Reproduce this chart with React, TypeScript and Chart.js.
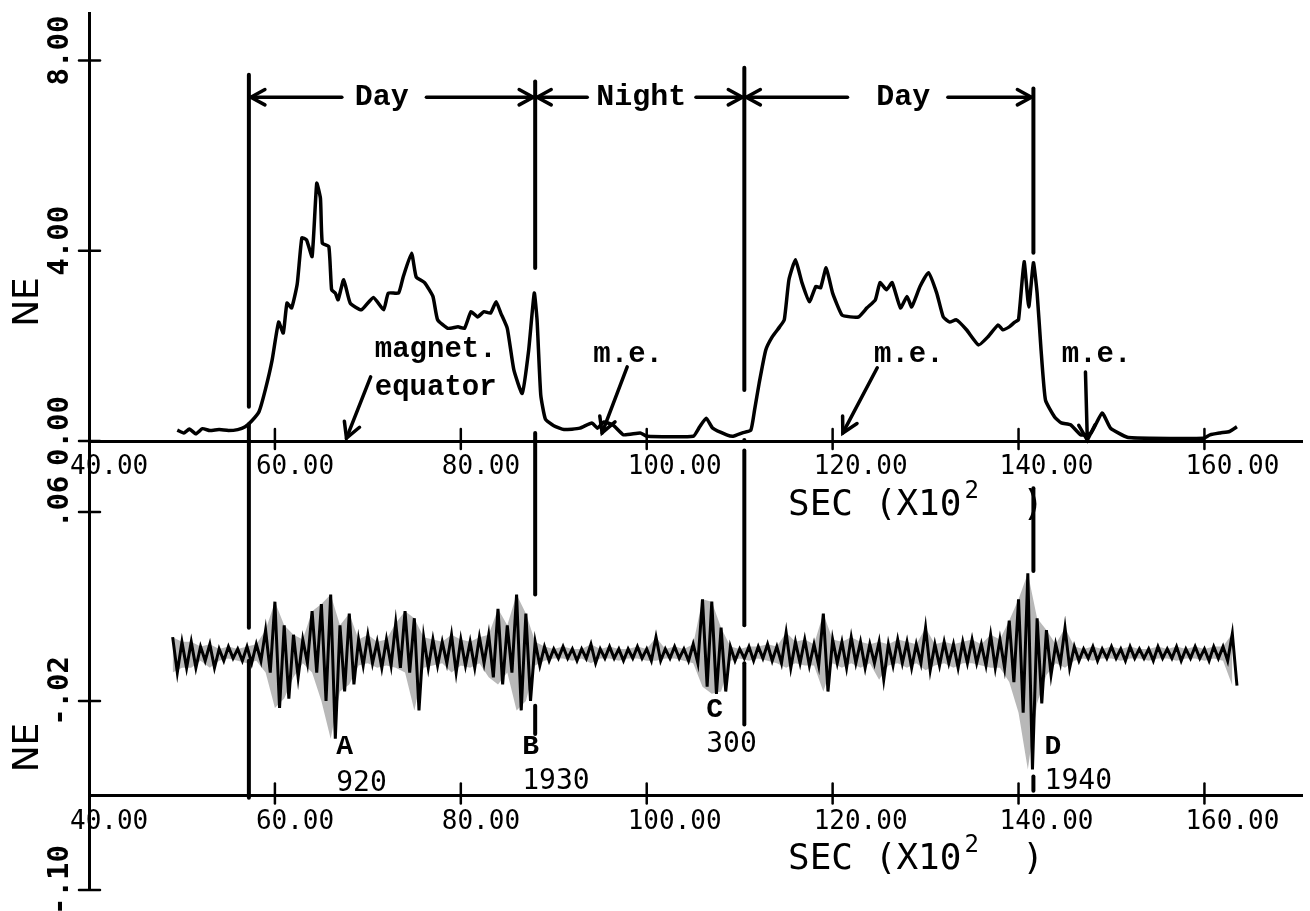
import { useEffect, useRef } from "react";
import { Chart, registerables } from "chart.js";
import type { Plugin, Scale } from "chart.js";

Chart.register(...registerables);

// top panel: NE trace, time in SEC x 10^2
const TOP_T = [
  49.5, 50.2, 50.8, 51.5, 52.2, 53.0, 54.0, 55.0, 56.0, 56.8, 57.5, 58.3, 59.0, 59.7, 60.4, 60.9,
  61.3, 61.8, 62.4, 62.9, 63.4, 64.0, 64.5, 64.9, 65.1, 65.8, 66.1, 66.5, 66.8, 67.4, 68.1, 69.3,
  70.6, 71.7, 72.2, 73.3, 73.8, 74.7, 75.2, 76.1, 77.0, 77.5, 78.6, 79.7, 80.4, 81.1, 81.8, 82.5,
  83.2, 83.8, 84.3, 85.0, 85.7, 86.6, 87.3, 87.9, 88.2, 88.6, 89.1, 90.0, 91.1, 92.8, 94.1, 94.7,
  95.4, 96.4, 97.5, 99.3, 100.0, 105.0, 105.7, 106.4, 107.1, 108.6, 109.3, 110.3, 111.2, 111.6,
  112.1, 112.8, 113.5, 114.3, 114.8, 115.3, 116.0, 116.7, 117.5, 118.2, 118.7, 119.3, 120.0, 121.0,
  121.9, 122.8, 123.7, 124.6, 125.1, 125.8, 126.4, 127.3, 128.0, 128.5, 129.4, 130.3, 131.2, 131.9,
  132.6, 133.3, 134.4, 135.7, 136.7, 137.8, 138.3, 139.0, 139.6, 140.0, 140.6, 141.1, 141.6, 142.0,
  142.4, 142.9, 143.9, 144.6, 145.6, 146.7, 147.8, 149.0, 149.9, 151.7, 154.2, 159.9, 160.6, 161.7,
  162.7, 163.5,
];
const TOP_NE = [
  0.23, 0.17, 0.25, 0.15, 0.26, 0.22, 0.24, 0.22, 0.24, 0.3, 0.42, 0.62, 1.1, 1.7, 2.5, 2.27,
  2.9, 2.8, 3.3, 4.27, 4.23, 3.88, 5.42, 5.1, 4.16, 4.09, 3.18, 3.11, 2.97, 3.39, 2.9, 2.76,
  3.02, 2.76, 3.11, 3.11, 3.45, 3.95, 3.45, 3.33, 3.04, 2.55, 2.37, 2.4, 2.37, 2.72, 2.61, 2.72,
  2.69, 2.93, 2.69, 2.37, 1.5, 1.0, 1.91, 3.11, 2.55, 0.97, 0.46, 0.32, 0.24, 0.27, 0.38, 0.27,
  0.4, 0.33, 0.13, 0.17, 0.1, 0.1, 0.3, 0.48, 0.27, 0.13, 0.1, 0.17, 0.23, 0.65,
  1.22, 1.91, 2.19, 2.4, 2.55, 3.39, 3.81, 3.33, 2.93, 3.25, 3.22, 3.64, 3.11, 2.65,
  2.61, 2.61, 2.8, 2.97, 3.33, 3.18, 3.33, 2.8, 3.04, 2.82, 3.25, 3.54, 3.11, 2.61,
  2.5, 2.55, 2.34, 2.02, 2.19, 2.44, 2.34, 2.4, 2.5, 2.55, 3.77, 2.82, 3.75, 3.11,
  1.98, 0.86, 0.5, 0.38, 0.34, 0.13, 0.17, 0.59, 0.27, 0.08, 0.06, 0.06, 0.13, 0.17,
  0.2, 0.3,
];

// bottom panel: fluctuation trace, upper and lower swing per sample
const SIG_T = [
  49, 50, 51, 52, 53, 54, 55, 56, 57, 58, 59, 60, 61, 62, 63, 64, 65, 66, 67, 68, 69, 70, 71, 72, 73,
  74, 75, 76, 77, 78, 79, 80, 81, 82, 83, 84, 85, 86, 87, 88, 89, 90, 91, 92, 93, 94, 95, 96, 97, 98,
  99, 100, 101, 102, 103, 104, 105, 106, 107, 108, 109, 110, 111, 112, 113, 114, 115, 116, 117, 118,
  119, 120, 121, 122, 123, 124, 125, 126, 127, 128, 129, 130, 131, 132, 133, 134, 135, 136, 137, 138,
  139, 140, 141, 142, 143, 144, 145, 146, 147, 148, 149, 150, 151, 152, 153, 154, 155, 156, 157, 158,
  159, 160, 161, 162, 163,
];
const SIG_HI = [
  0.007, 0.005, 0.005, 0.003, 0.004, 0.002, 0.003, 0.002, 0.003, 0.004, 0.01, 0.022, 0.012, 0.008, 0.006,
  0.018, 0.021, 0.025, 0.012, 0.017, 0.006, 0.008, 0.005, 0.006, 0.013, 0.018, 0.015, 0.007, 0.006, 0.005,
  0.008, 0.006, 0.005, 0.007, 0.008, 0.019, 0.012, 0.025, 0.017, 0.005, 0.003, 0.002, 0.003, 0.002, 0.002,
  0.004, 0.002, 0.003, 0.002, 0.002, 0.003, 0.002, 0.007, 0.002, 0.003, 0.002, 0.004, 0.023, 0.022, 0.011,
  0.003, 0.002, 0.003, 0.003, 0.004, 0.003, 0.009, 0.005, 0.006, 0.004, 0.017, 0.006, 0.005, 0.007, 0.005,
  0.004, 0.005, 0.004, 0.006, 0.005, 0.004, 0.011, 0.004, 0.005, 0.004, 0.005, 0.006, 0.004, 0.008, 0.006,
  0.014, 0.023, 0.034, 0.015, 0.01, 0.004, 0.011, 0.003, 0.002, 0.003, 0.002, 0.003, 0.002, 0.003, 0.002,
  0.002, 0.003, 0.002, 0.003, 0.002, 0.003, 0.002, 0.003, 0.003, 0.0085,
];
const SIG_LO = [
  -0.008, -0.006, -0.006, -0.003, -0.006, -0.003, -0.002, -0.003, -0.004, -0.003, -0.008, -0.023, -0.019, -0.01, -0.004,
  -0.008, -0.02, -0.036, -0.016, -0.013, -0.005, -0.004, -0.006, -0.005, -0.006, -0.008, -0.024, -0.006, -0.005, -0.004,
  -0.008, -0.005, -0.006, -0.004, -0.01, -0.013, -0.008, -0.024, -0.02, -0.005, -0.003, -0.002, -0.002, -0.003, -0.002,
  -0.004, -0.002, -0.002, -0.003, -0.002, -0.002, -0.003, -0.003, -0.002, -0.002, -0.003, -0.004, -0.014, -0.017, -0.016,
  -0.003, -0.002, -0.003, -0.002, -0.003, -0.004, -0.006, -0.004, -0.005, -0.005, -0.016, -0.004, -0.006, -0.004, -0.006,
  -0.004, -0.011, -0.005, -0.004, -0.006, -0.004, -0.007, -0.005, -0.004, -0.006, -0.004, -0.004, -0.005, -0.006, -0.006,
  -0.012, -0.025, -0.049, -0.021, -0.009, -0.004, -0.006, -0.003, -0.002, -0.003, -0.002, -0.002, -0.003, -0.002, -0.002,
  -0.003, -0.002, -0.002, -0.003, -0.002, -0.002, -0.003, -0.002, -0.003, -0.0135,
];

const X_TICKS = [40, 60, 80, 100, 120, 140, 160];
const Y_TICKS = [0, 4, 8];
const Y_TICK_LABELS = ["0.00", "4.00", "8.00"];
const Y2_TICKS = [-0.1, -0.02, 0.06];
const Y2_TICK_LABELS = ["-.10", "-.02", ".06"];

// day / night boundaries and the pieces of each vertical marker
const PHASE_X = [57.2, 88.0, 110.5, 141.6];
const PHASE_TOP: number[][][] = [
  [[7.7, 0.72], [0.35, 0]],
  [[7.56, 3.64], [0.17, 0]],
  [[7.85, 1.07], [0.02, 0]],
  [[7.41, 3.96]],
];
const PHASE_BOT: number[][][] = [
  [[0.09, 0.011], [-0.003, -0.061]],
  [[0.09, 0.025], [-0.022, -0.034]],
  [[0.086, 0.012], [-0.004, -0.03]],
  [[0.07, 0.035], [-0.052, -0.058]],
];
const PERIOD_LABELS = ["Day", "Night", "Day"];
const PERIOD_MID = [71.5, 99.4, 127.6];
const PERIOD_TAILS = [[67.2, 76.3], [93.6, 105.3], [121.6, 132.4]];
const PERIOD_Y = 7.23;

// magnetic equator pointers
const ME_TEXT = [["magnet.", "equator"], ["m.e."], ["m.e."], ["m.e."]];
const ME_TEXT_X = [77.3, 98.0, 128.2, 148.4];
const ME_TEXT_Y = [1.92, 1.81, 1.81, 1.81];
const ME_TAIL = [[70.3, 1.35], [97.9, 1.56], [124.8, 1.54], [147.2, 1.45]];
const ME_TIP = [[67.7, 0.06], [95.2, 0.17], [121.1, 0.17], [147.4, 0.02]];

// events in the lower panel
const EVENT_NAMES = ["A", "B", "C", "D"];
const EVENT_TIMES = ["920", "1930", "300", "1940"];
const EVENT_X = [66.6, 86.6, 106.4, 142.8];
const EVENT_NAME_Y = [-0.0394, -0.0394, -0.0237, -0.0394];
const EVENT_TIME_Y = [-0.055, -0.054, -0.0385, -0.054];

const MONO = '"DejaVu Sans Mono", monospace';
const TYPE = '"Liberation Mono", "DejaVu Sans Mono", monospace';
const SANS = '"DejaVu Sans", sans-serif';

function arrowHead(c: CanvasRenderingContext2D, fx: number, fy: number, tx: number, ty: number, len: number) {
  const a = Math.atan2(ty - fy, tx - fx);
  const s = 0.5;
  c.beginPath();
  c.moveTo(tx - len * Math.cos(a - s), ty - len * Math.sin(a - s));
  c.lineTo(tx, ty);
  c.lineTo(tx - len * Math.cos(a + s), ty - len * Math.sin(a + s));
  c.stroke();
}

function seg(c: CanvasRenderingContext2D, x1: number, y1: number, x2: number, y2: number) {
  c.beginPath();
  c.moveTo(x1, y1);
  c.lineTo(x2, y2);
  c.stroke();
}

const overlay: Plugin<"scatter"> = {
  id: "overlay",
  afterDraw(chart) {
    const c = chart.ctx;
    const { x, x2, y, y2 } = chart.scales as Record<string, Scale>;
    const left = chart.chartArea.left;
    c.save();
    c.fillStyle = "#000";
    c.strokeStyle = "#000";
    c.lineCap = "round";

    // tick marks crossing the axes
    c.lineWidth = 2.5;
    const xAxes: [Scale, number][] = [[x, y.getPixelForValue(0)], [x2, y2.getPixelForValue(-0.06)]];
    for (const [xs, py] of xAxes) {
      for (const v of X_TICKS) {
        if (v === 40) continue;
        const px = xs.getPixelForValue(v);
        seg(c, px, py - 12, px, py + 8);
      }
    }
    const yAxes: [Scale, string[]][] = [[y, Y_TICK_LABELS], [y2, Y2_TICK_LABELS]];
    for (const [ys, labels] of yAxes) {
      ys.ticks.forEach((t, i) => {
        const py = ys.getPixelForValue(t.value);
        c.lineWidth = 2.5;
        seg(c, left - 10, py, left + 11, py);
        c.save();
        c.translate(60, py - 10);
        c.rotate(-Math.PI / 2);
        c.font = `bold 29px ${MONO}`;
        c.textAlign = "center";
        c.textBaseline = "middle";
        c.fillText(labels[i], 0, 0);
        c.restore();
      });
      // axis title
      c.save();
      c.translate(29, (ys.top + ys.bottom) / 2 + (ys === y ? 75 : 82));
      c.rotate(-Math.PI / 2);
      c.font = `36px ${SANS}`;
      c.textAlign = "center";
      c.textBaseline = "middle";
      c.fillText("NE", 0, 0);
      c.restore();
    }

    // x titles: SEC (X10^2 )
    for (const [xs, py] of xAxes) {
      let px = xs.getPixelForValue(115.2);
      const base = py + 74;
      c.textAlign = "left";
      c.textBaseline = "alphabetic";
      c.font = `36px ${MONO}`;
      c.fillText("SEC (X10", px, base);
      px += c.measureText("SEC (X10").width + 3;
      c.font = `24px ${MONO}`;
      c.fillText("2", px, base - 17);
      px += c.measureText("2").width;
      c.font = `36px ${MONO}`;
      c.fillText("  )", px, base);
    }

    // day / night markers
    c.lineWidth = 4;
    PHASE_X.forEach((v, i) => {
      const px = x.getPixelForValue(v);
      for (const [a, b] of PHASE_TOP[i]) seg(c, px, y.getPixelForValue(a), px, y.getPixelForValue(b));
      for (const [a, b] of PHASE_BOT[i]) seg(c, px, y2.getPixelForValue(a), px, y2.getPixelForValue(b));
    });
    const py = y.getPixelForValue(PERIOD_Y);
    c.font = `bold 30px ${TYPE}`;
    c.textAlign = "center";
    c.textBaseline = "middle";
    PERIOD_LABELS.forEach((label, i) => {
      c.fillText(label, x.getPixelForValue(PERIOD_MID[i]), py);
      const startX = x.getPixelForValue(PHASE_X[i]);
      const endX = x.getPixelForValue(PHASE_X[i + 1]);
      const [tl, tr] = PERIOD_TAILS[i];
      c.lineWidth = 3.5;
      seg(c, x.getPixelForValue(tl), py, startX + 2, py);
      arrowHead(c, startX + 20, py, startX + 2, py, 16);
      seg(c, x.getPixelForValue(tr), py, endX - 2, py);
      arrowHead(c, endX - 20, py, endX - 2, py, 16);
    });

    // magnetic equator pointers
    ME_TEXT.forEach((lines, i) => {
      c.font = `bold 29px ${TYPE}`;
      lines.forEach((t, k) => {
        c.fillText(t, x.getPixelForValue(ME_TEXT_X[i]), y.getPixelForValue(ME_TEXT_Y[i]) + k * 38);
      });
      const fx = x.getPixelForValue(ME_TAIL[i][0]);
      const fy = y.getPixelForValue(ME_TAIL[i][1]);
      const tx = x.getPixelForValue(ME_TIP[i][0]);
      const ty = y.getPixelForValue(ME_TIP[i][1]);
      c.lineWidth = 3.5;
      seg(c, fx, fy, tx, ty);
      arrowHead(c, fx, fy, tx, ty, 17);
    });

    // event labels
    c.textAlign = "left";
    EVENT_NAMES.forEach((n, i) => {
      const px = x2.getPixelForValue(EVENT_X[i]);
      c.font = `bold 28px ${TYPE}`;
      c.fillText(n, px, y2.getPixelForValue(EVENT_NAME_Y[i]));
      c.font = `28px ${MONO}`;
      c.fillText(EVENT_TIMES[i], px, y2.getPixelForValue(EVENT_TIME_Y[i]));
    });
    c.restore();
  },
};

const xAxis = (pos: Record<string, number>) => ({
  type: "linear" as const,
  position: pos,
  min: 40,
  max: 170.5,
  afterBuildTicks: (s: Scale) => {
    s.ticks = X_TICKS.map((value) => ({ value }));
  },
  grid: { display: false, drawTicks: false },
  border: { color: "#000", width: 3 },
  ticks: {
    align: "start" as const,
    labelOffset: -19,
    padding: 11,
    autoSkip: false,
    maxRotation: 0,
    color: "#000",
    font: { family: MONO, size: 26 },
    callback: (v: number | string) => Number(v).toFixed(2),
  },
});

export default function App() {
  const canvasRef = useRef<HTMLCanvasElement>(null);

  useEffect(() => {
    const canvas = canvasRef.current;
    if (!canvas) return;
    const topPoints = TOP_T.map((t, i) => ({ x: t, y: TOP_NE[i] }));
    const hiPoints = SIG_T.map((t, i) => ({ x: t, y: SIG_HI[i] }));
    const loPoints = SIG_T.map((t, i) => ({ x: t, y: SIG_LO[i] }));
    const sigPoints = SIG_T.flatMap((t, i) => [
      { x: t, y: SIG_HI[i] },
      { x: t + 0.5, y: SIG_LO[i] },
    ]);

    const chart = new Chart(canvas, {
      type: "scatter",
      data: {
        datasets: [
          {
            data: topPoints,
            xAxisID: "x",
            yAxisID: "y",
            showLine: true,
            borderColor: "#000",
            borderWidth: 3.5,
            pointRadius: 0,
            tension: 0.15,
          },
          // envelope of the fluctuations, light fill
          {
            data: hiPoints,
            xAxisID: "x2",
            yAxisID: "y2",
            showLine: true,
            borderWidth: 0,
            borderColor: "rgba(0,0,0,0)",
            pointRadius: 0,
          },
          {
            data: loPoints,
            xAxisID: "x2",
            yAxisID: "y2",
            showLine: true,
            borderWidth: 0,
            borderColor: "rgba(0,0,0,0)",
            backgroundColor: "rgba(0,0,0,0.28)",
            fill: "-1",
            pointRadius: 0,
          },
          {
            data: sigPoints,
            xAxisID: "x2",
            yAxisID: "y2",
            showLine: true,
            borderColor: "#000",
            borderWidth: 3,
            pointRadius: 0,
          },
        ],
      },
      options: {
        animation: false,
        responsive: true,
        maintainAspectRatio: false,
        events: [],
        layout: { padding: { top: 13, bottom: 21, left: 0, right: 0 } },
        plugins: { legend: { display: false }, tooltip: { enabled: false } },
        scales: {
          x: xAxis({ y: 0 }),
          x2: xAxis({ y2: -0.06 }),
          y: {
            type: "linear",
            position: "left",
            stack: "ne",
            stackWeight: 428,
            weight: 2,
            min: 0,
            max: 9,
            afterBuildTicks: (s) => {
              s.ticks = Y_TICKS.map((value) => ({ value }));
            },
            afterFit: (s) => {
              s.width = 89;
            },
            grid: { display: false, drawTicks: false },
            border: { color: "#000", width: 3 },
            ticks: { display: false },
          },
          y2: {
            type: "linear",
            position: "left",
            stack: "ne",
            stackWeight: 449,
            weight: 1,
            min: -0.1,
            max: 0.09,
            afterBuildTicks: (s) => {
              s.ticks = Y2_TICKS.map((value) => ({ value }));
            },
            afterFit: (s) => {
              s.width = 89;
            },
            grid: { display: false, drawTicks: false },
            border: { color: "#000", width: 3 },
            ticks: { display: false },
          },
        },
      },
      plugins: [overlay],
    });

    return () => chart.destroy();
  }, []);

  return (
    <div style={{ position: "fixed", left: 0, top: 0, width: 1310, height: 911, background: "#fff" }}>
      <canvas ref={canvasRef} />
    </div>
  );
}
